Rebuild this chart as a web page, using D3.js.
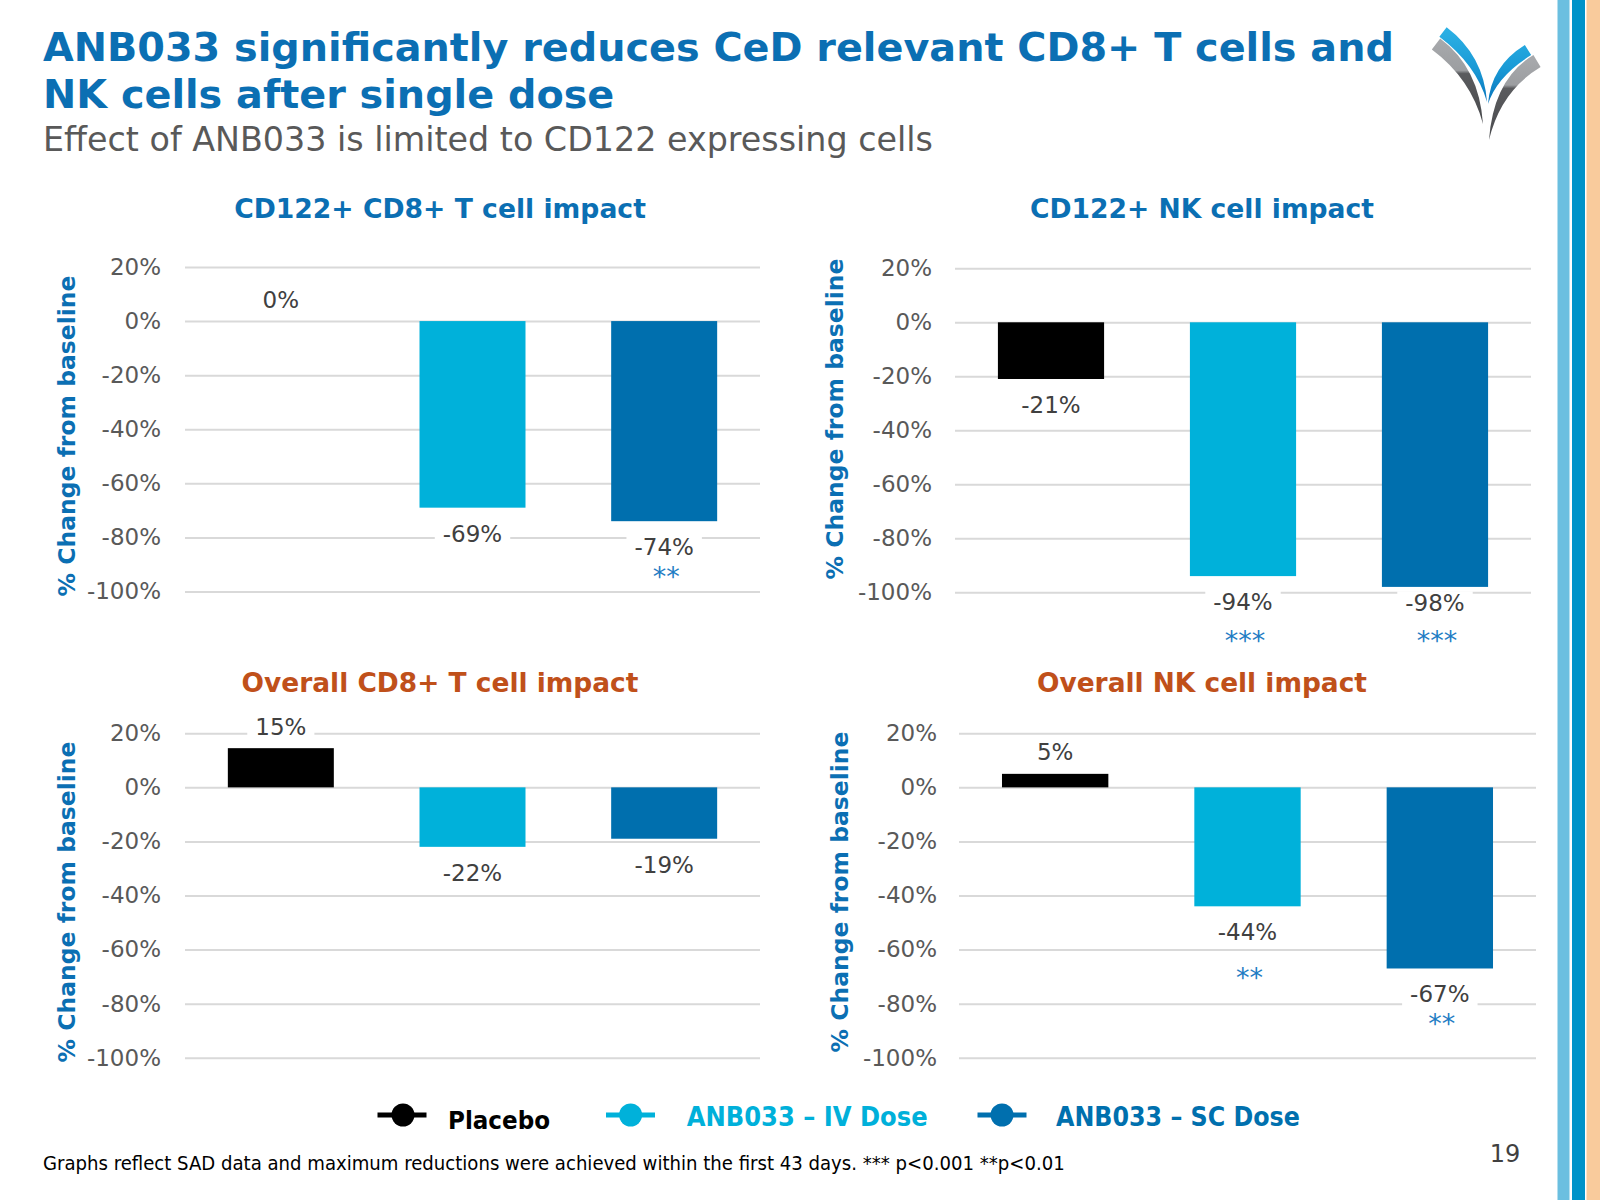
<!DOCTYPE html>
<html><head><meta charset="utf-8">
<script src="https://cdn.jsdelivr.net/npm/d3@7"></script>
<style>body{margin:0;background:#fff} svg{display:block}</style>
</head><body>
<svg id="c" width="1600" height="1200"></svg>
<script>
// ---------- DATA ----------
const categories = ["Placebo", "ANB033 – IV Dose", "ANB033 – SC Dose"];
const yTicks = [20, 0, -20, -40, -60, -80, -100];
const cd122Cd8Values = [0, -69, -74];
const cd122NkValues = [-21, -94, -98];
const overallCd8Values = [14.5, -22, -19];
const overallNkValues = [5, -44, -67];
const cd122Cd8Stars = [{cat: 2, text: "**", at: -93.5}];
const cd122NkStars = [{cat: 1, text: "***", at: -117}, {cat: 2, text: "***", at: -117}];
const overallCd8Stars = [];
const overallNkStars = [{cat: 1, text: "**", at: -69.3}, {cat: 2, text: "**", at: -86.6}];
const chartTitles = ["CD122+ CD8+ T cell impact", "CD122+ NK cell impact", "Overall CD8+ T cell impact", "Overall NK cell impact"];
const titleLines = ["ANB033 significantly reduces CeD relevant CD8+ T cells and", "NK cells after single dose"];
const subtitle = "Effect of ANB033 is limited to CD122 expressing cells";
const axisTitle = "% Change from baseline";
const footnote = "Graphs reflect SAD data and maximum reductions were achieved within the first 43 days. *** p<0.001 **p<0.01";
const pageNumber = "19";

// ---------- STYLE / LAYOUT ----------
const C = {placebo: "#000000", iv: "#00B1DA", sc: "#006FAE", title: "#0B6FB3", orange: "#C0501A",
  grid: "#D9D9D9", tick: "#595959", label: "#404040", star: "#1F7DC4"};
const barColors = [C.placebo, C.iv, C.sc];
const FONT = "'DejaVu Sans', Verdana, sans-serif";
const FONT2 = "'DejaVu Sans Condensed', 'DejaVu Sans', Tahoma, sans-serif";

const panels = [
  {values: cd122Cd8Values, stars: cd122Cd8Stars, title: chartTitles[0], tcol: C.title,
   x0: 185, x1: 760, yTop: 267, yBot: 591.5, tickRight: 161, axX: 67, axY: 436, tX: 440, tY: 208, tW: 412},
  {values: cd122NkValues, stars: cd122NkStars, title: chartTitles[1], tcol: C.title,
   x0: 955, x1: 1531, yTop: 268.3, yBot: 592.3, tickRight: 932, axX: 835, axY: 419, tX: 1202, tY: 208, tW: 344},
  {values: overallCd8Values, stars: overallCd8Stars, title: chartTitles[2], tcol: C.orange,
   x0: 185, x1: 760, yTop: 733.3, yBot: 1057.7, tickRight: 161, axX: 67, axY: 902, tX: 440, tY: 682, tW: 397},
  {values: overallNkValues, stars: overallNkStars, title: chartTitles[3], tcol: C.orange,
   x0: 959, x1: 1536, yTop: 733.3, yBot: 1057.7, tickRight: 937, axX: 840, axY: 892, tX: 1202, tY: 682, tW: 330}
];

const svg = d3.select("#c");
svg.append("rect").attr("width", 1600).attr("height", 1200).attr("fill", "#fff");

function fit(sel, target) {
  const fs = parseFloat(sel.attr("font-size"));
  const len = sel.node().getComputedTextLength();
  sel.attr("font-size", (fs * target / len).toFixed(2));
}

// ---------- right stripes ----------
svg.append("rect").attr("x", 1557.5).attr("y", 0).attr("width", 12).attr("height", 1200).attr("fill", "#6BBFE0");
svg.append("rect").attr("x", 1572).attr("y", 0).attr("width", 13).attr("height", 1200).attr("fill", "#0093C9");
svg.append("rect").attr("x", 1586.5).attr("y", 0).attr("width", 13.5).attr("height", 1200).attr("fill", "#F9CB9C");

// ---------- logo ----------
const defs = svg.append("defs");
function vgrad(id, y0, y1, stops) {
  const g = defs.append("linearGradient").attr("id", id).attr("gradientUnits", "userSpaceOnUse")
    .attr("x1", 0).attr("x2", 0).attr("y1", y0).attr("y2", y1);
  stops.forEach(s => g.append("stop").attr("offset", s[0]).attr("stop-color", s[1]));
}
vgrad("gBlue", 30, 100, [[0, "#2BB0E4"], [0.55, "#1A9AD6"], [1, "#0A78BE"]]);
vgrad("gGreyL", 40, 120, [[0, "#A7A9AC"], [0.38, "#9C9EA1"], [0.42, "#5A5B5E"], [1, "#4A4B4E"]]);
vgrad("gGreyR", 58, 140, [[0, "#A7A9AC"], [0.33, "#9C9EA1"], [0.37, "#5A5B5E"], [1, "#4A4B4E"]]);
function band(p0, c, p2, w) {
  const dx = c[0] - p0[0], dy = c[1] - p0[1], L = Math.hypot(dx, dy);
  const nx = -dy / L * w / 2, ny = dx / L * w / 2;
  return `M${p0[0]+nx},${p0[1]+ny} Q${c[0]+nx},${c[1]+ny} ${p2[0]},${p2[1]} Q${c[0]-nx},${c[1]-ny} ${p0[0]-nx},${p0[1]-ny} Z`;
}
const logo = svg.append("g");
logo.append("path").attr("d", band([1436, 44], [1475, 73], [1483, 124], 14)).attr("fill", "url(#gGreyL)");
logo.append("path").attr("d", band([1443, 32], [1480, 60], [1487, 102], 12)).attr("fill", "url(#gBlue)");
logo.append("path").attr("d", band([1537, 61], [1497, 85], [1489, 140], 14)).attr("fill", "url(#gGreyR)");
logo.append("path").attr("d", band([1528, 50], [1494, 71], [1488, 104], 12)).attr("fill", "url(#gBlue)");

// ---------- titles ----------
const t1 = svg.append("text").attr("x", 43).attr("y", 61).attr("font-family", FONT).attr("font-weight", "bold")
  .attr("font-size", 40).attr("fill", C.title).text(titleLines[0]);
fit(t1, 1351);
svg.append("text").attr("x", 43).attr("y", 108).attr("font-family", FONT).attr("font-weight", "bold")
  .attr("font-size", t1.attr("font-size")).attr("fill", C.title).text(titleLines[1]);
const st = svg.append("text").attr("x", 43).attr("y", 151).attr("font-family", FONT)
  .attr("font-size", 30).attr("fill", "#595959").text(subtitle);
fit(st, 890);

// ---------- panels ----------
panels.forEach(p => {
  const g = svg.append("g");
  const y = d3.scaleLinear().domain([20, -100]).range([p.yTop, p.yBot]);
  const x = d3.scaleBand().domain(categories).range([p.x0, p.x1]).paddingInner(0.447).paddingOuter(0.2235);

  // gridlines
  const grid = g.append("g").attr("transform", `translate(${p.x0},0)`)
    .call(d3.axisLeft(y).tickValues(yTicks).tickSize(-(p.x1 - p.x0)).tickFormat(""));
  grid.select(".domain").remove();
  grid.selectAll("line").attr("stroke", C.grid).attr("stroke-width", 2);

  // tick labels
  const ax = g.append("g").attr("transform", `translate(${p.x0},0)`)
    .call(d3.axisLeft(y).tickValues(yTicks).tickSize(0).tickPadding(p.x0 - p.tickRight).tickFormat(d => d + "%"));
  ax.select(".domain").remove();
  ax.selectAll("text").attr("font-family", FONT).attr("font-size", 23).attr("fill", C.tick);

  // bars
  g.selectAll("rect.bar").data(p.values).join("rect").attr("class", "bar")
    .attr("x", (d, i) => x(categories[i])).attr("width", x.bandwidth())
    .attr("y", d => y(Math.max(0, d))).attr("height", d => Math.abs(y(d) - y(0)))
    .attr("fill", (d, i) => barColors[i]);

  // data labels
  p.values.forEach((v, i) => {
    const cx = x(categories[i]) + x.bandwidth() / 2;
    const ly = v >= 0 ? y(v) - 21.5 : Math.min(y(v) + 26, y(-100) + 11);
    const bg = g.append("rect").attr("fill", "#fff");
    const t = g.append("text").attr("x", cx).attr("y", ly).attr("text-anchor", "middle")
      .attr("dominant-baseline", "central").attr("font-family", FONT).attr("font-size", 23)
      .attr("fill", C.label).text(Math.round(v) + "%");
    const b = t.node().getBBox();
    bg.attr("x", b.x - 8).attr("y", b.y + 1).attr("width", b.width + 16).attr("height", b.height - 2);
  });

  // significance stars
  p.stars.forEach(s => {
    g.append("text").attr("x", x(categories[s.cat]) + x.bandwidth() / 2 + 2).attr("y", y(s.at) + 12)
      .attr("text-anchor", "middle").attr("font-family", FONT).attr("font-size", 27)
      .attr("fill", C.star).text(s.text);
  });

  // chart title
  const tt = g.append("text").attr("x", p.tX).attr("y", p.tY).attr("text-anchor", "middle")
    .attr("dominant-baseline", "central").attr("font-family", FONT).attr("font-weight", "bold")
    .attr("font-size", 24).attr("fill", p.tcol).text(p.title);
  fit(tt, p.tW);

  // axis title
  const at = g.append("text").attr("transform", `translate(${p.axX},${p.axY}) rotate(-90)`)
    .attr("text-anchor", "middle").attr("dominant-baseline", "central").attr("font-family", FONT)
    .attr("font-weight", "bold").attr("font-size", 22).attr("fill", C.title).text(axisTitle);
  fit(at, 321);
});

// ---------- legend ----------
const legendLayout = [
  {x0: 377.5, x1: 426.5, cx: 403, tx: 448, ty: 1120, w: 102},
  {x0: 606, x1: 655, cx: 630.6, tx: 686.7, ty: 1116, w: 241},
  {x0: 977.5, x1: 1026.5, cx: 1002, tx: 1056, ty: 1116, w: 244}
];
const legColors = [C.placebo, C.iv, C.sc];
const legTextColors = ["#000000", "#00B0DA", "#0070AE"];
categories.forEach((c, i) => {
  const L = legendLayout[i];
  svg.append("line").attr("x1", L.x0).attr("x2", L.x1).attr("y1", 1115).attr("y2", 1115)
    .attr("stroke", legColors[i]).attr("stroke-width", 5);
  svg.append("circle").attr("cx", L.cx).attr("cy", 1115).attr("r", 11.5).attr("fill", legColors[i]);
  const t = svg.append("text").attr("x", L.tx).attr("y", L.ty).attr("dominant-baseline", "central")
    .attr("font-family", FONT2).attr("font-weight", "bold").attr("font-size", 24)
    .attr("fill", legTextColors[i]).text(c);
  fit(t, L.w);
});

// ---------- footnote & page number ----------
const fn = svg.append("text").attr("x", 43).attr("y", 1163).attr("dominant-baseline", "central")
  .attr("font-family", FONT2).attr("font-size", 17).attr("fill", "#000").text(footnote);
fit(fn, 1023);
svg.append("text").attr("x", 1505).attr("y", 1154).attr("text-anchor", "middle").attr("dominant-baseline", "central")
  .attr("font-family", FONT).attr("font-size", 24).attr("fill", "#404040").text(pageNumber);
</script>
</body></html>
